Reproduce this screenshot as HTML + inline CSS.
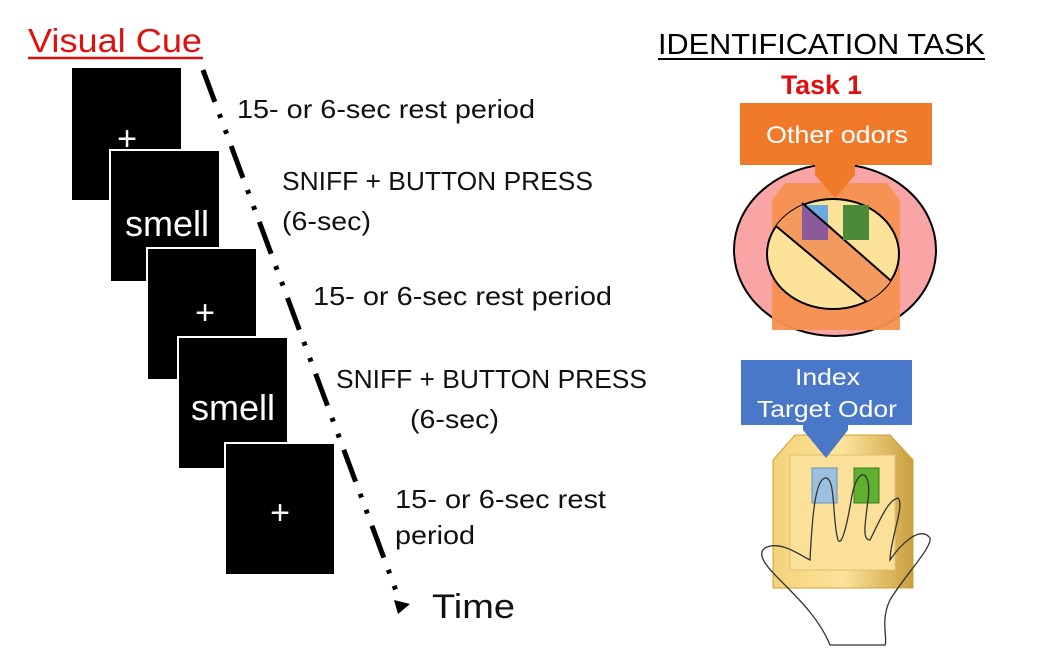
<!DOCTYPE html>
<html><head><meta charset="utf-8"><style>
body{margin:0;background:#fff;}
svg{display:block;}
text{font-family:"Liberation Sans",sans-serif;}
</style></head><body>
<svg width="1037" height="662" viewBox="0 0 1037 662" xmlns="http://www.w3.org/2000/svg">
<defs>
<linearGradient id="gy" x1="0" x2="1"><stop offset="0" stop-color="#f3d27a"/><stop offset="0.5" stop-color="#fde39a"/><stop offset="1" stop-color="#c9a040"/></linearGradient>
<clipPath id="inner"><ellipse cx="833" cy="254" rx="66" ry="55"/></clipPath>
</defs>
<text x="28" y="52" font-size="33" fill="#e01010" textLength="174" lengthAdjust="spacingAndGlyphs">Visual Cue</text>
<line x1="28" y1="58" x2="203" y2="58" stroke="#e01010" stroke-width="2.5"/>
<rect x="72" y="68" width="109" height="132" fill="#000"/>
<text x="127" y="150" font-size="34" fill="#fff" text-anchor="middle">+</text>
<rect x="110" y="150" width="110" height="132" fill="#000" stroke="#fff" stroke-width="2"/>
<text x="167" y="236" font-size="36" fill="#fff" text-anchor="middle">smell</text>
<rect x="147" y="248" width="110" height="132" fill="#000" stroke="#fff" stroke-width="2"/>
<text x="205" y="324" font-size="34" fill="#fff" text-anchor="middle">+</text>
<rect x="178" y="337" width="110" height="132" fill="#000" stroke="#fff" stroke-width="2"/>
<text x="233" y="420" font-size="36" fill="#fff" text-anchor="middle">smell</text>
<rect x="225" y="443" width="110" height="132" fill="#000" stroke="#fff" stroke-width="2"/>
<text x="280" y="524" font-size="34" fill="#fff" text-anchor="middle">+</text>
<line x1="203" y1="70" x2="398" y2="596" stroke="#000" stroke-width="5" stroke-dasharray="34,13,4,13,4,13"/>
<polygon points="394,600 410,604 398,614" fill="#000"/>
<g font-size="26" fill="#111">
<text x="237" y="118" textLength="298" lengthAdjust="spacingAndGlyphs">15- or 6-sec rest period</text>
<text x="282" y="190" textLength="311" lengthAdjust="spacingAndGlyphs">SNIFF + BUTTON PRESS</text>
<text x="282" y="230" textLength="89" lengthAdjust="spacingAndGlyphs">(6-sec)</text>
<text x="313" y="305" textLength="299" lengthAdjust="spacingAndGlyphs">15- or 6-sec rest period</text>
<text x="336" y="388" textLength="311" lengthAdjust="spacingAndGlyphs">SNIFF + BUTTON PRESS</text>
<text x="410" y="428" textLength="89" lengthAdjust="spacingAndGlyphs">(6-sec)</text>
<text x="395" y="508" textLength="211" lengthAdjust="spacingAndGlyphs">15- or 6-sec rest</text>
<text x="395" y="544" textLength="80" lengthAdjust="spacingAndGlyphs">period</text>
<text x="432" y="618" font-size="34" textLength="83" lengthAdjust="spacingAndGlyphs">Time</text>
</g>
<text x="658" y="54" font-size="29" fill="#000" textLength="327" lengthAdjust="spacingAndGlyphs">IDENTIFICATION TASK</text>
<line x1="658" y1="59" x2="985" y2="59" stroke="#000" stroke-width="2"/>
<text x="781" y="94" font-size="27" font-weight="bold" fill="#e01010" textLength="81" lengthAdjust="spacingAndGlyphs">Task 1</text>
<!-- task1 -->
<ellipse cx="835" cy="250" rx="101" ry="86" fill="#f9a5a5" stroke="#000" stroke-width="2"/>
<polygon points="785,183 887,183 900,200 900,330 772,330 772,200" fill="#f5904f" opacity="0.95"/>
<ellipse cx="833" cy="254" rx="66" ry="55" fill="#fde39a" stroke="#000" stroke-width="2"/>
<g clip-path="url(#inner)">
<polygon points="760,166 930,315 910,338 740,196" fill="#f39a5e"/>
<line x1="760" y1="166" x2="930" y2="315" stroke="#000" stroke-width="2"/>
<line x1="740" y1="196" x2="910" y2="338" stroke="#000" stroke-width="2"/>
</g>
<rect x="802" y="205" width="26" height="35" fill="#8a5a9a"/>
<polygon points="802,205 828,205 828,226" fill="#6aa8e0"/>
<rect x="843" y="205" width="26" height="35" fill="#4a8a3a"/>
<line x1="802" y1="203" x2="832" y2="229" stroke="#000" stroke-width="2"/>
<rect x="740" y="103" width="192" height="62" fill="#f07a2a"/>
<polygon points="815,165 855,165 855,175 835,198 815,175" fill="#f07a2a"/>
<text x="766" y="143" font-size="24" fill="#fff" textLength="142" lengthAdjust="spacingAndGlyphs">Other odors</text>
<!-- task2 -->
<polygon points="795,435 890,435 913,460 913,588 773,588 773,460" fill="url(#gy)" stroke="#d0a030"/>
<rect x="790" y="455" width="105" height="115" fill="#fbe09a" stroke="#e0c070"/>
<rect x="812" y="468" width="25" height="35" fill="#9ec0e0" stroke="#6a90b8"/>
<rect x="854" y="468" width="25" height="35" fill="#60b030" stroke="#3a7a20"/>
<path d="M810,560 C812,520 815,480 825,478 C836,476 832,520 838,540 C842,548 848,520 852,495 C858,465 872,470 868,500 C865,525 862,540 870,540 C880,520 888,500 898,498 C905,505 890,540 890,560 C900,545 920,525 930,538 C932,548 905,575 890,600 C880,620 888,640 885,645 L830,645 C820,620 800,600 780,580 C770,570 755,555 765,548 C780,540 800,555 810,560 Z" fill="none" stroke="#333" stroke-width="1.3"/>
<rect x="741" y="360" width="171" height="65" fill="#4a78c8"/>
<polygon points="803,425 848,425 848,430 826,458 803,430" fill="#4a78c8"/>
<text x="795" y="385" font-size="23" fill="#fff" textLength="65" lengthAdjust="spacingAndGlyphs">Index</text>
<text x="757" y="417" font-size="23" fill="#fff" textLength="140" lengthAdjust="spacingAndGlyphs">Target Odor</text>
</svg>
</body></html>
